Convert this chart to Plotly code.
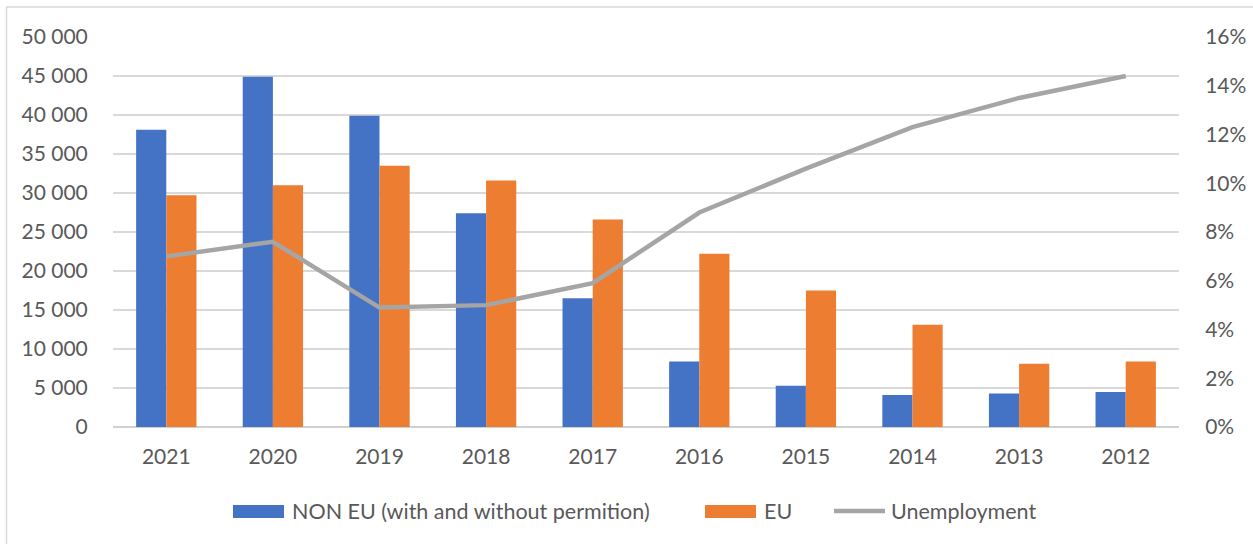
import plotly.graph_objects as go

years = ["2021", "2020", "2019", "2018", "2017", "2016", "2015", "2014", "2013", "2012"]
non_eu = [38100, 44900, 39900, 27400, 16500, 8400, 5300, 4100, 4300, 4500]
eu = [29700, 31000, 33500, 31600, 26600, 22200, 17500, 13100, 8100, 8400]
unemployment = [7.0, 7.6, 4.9, 5.0, 5.9, 8.8, 10.6, 12.3, 13.5, 14.4]

left_ticks = list(range(0, 50001, 5000))
left_labels = ["0" if v == 0 else f"{v // 1000} 000" for v in left_ticks]
right_ticks = list(range(0, 17, 2))
right_labels = [f"{v}%" for v in right_ticks]

names = ["NON EU (with and without permition)", "EU", "Unemployment"]
colors = ["#4472C4", "#ED7D31", "#A5A5A5"]

W, H = 1253, 544
L, R, T, B = 113, 74, 37, 117
PW, PH = W - L - R, H - T - B
FONT = "Lato, Open Sans, sans-serif"
TXT = "#595959"
FS = 21
CLEAR = "rgba(0,0,0,0)"


def px(x):
    return (x - L) / PW


def py(y):
    return (H - B - y) / PH


fig = go.Figure()
fig.add_trace(go.Bar(x=years, y=non_eu, name=names[0],
                     marker=dict(color=colors[0], line=dict(width=0))))
fig.add_trace(go.Bar(x=years, y=eu, name=names[1],
                     marker=dict(color=colors[1], line=dict(width=0))))
fig.add_trace(go.Scatter(x=years, y=unemployment, name=names[2], yaxis="y2",
                         mode="lines", line=dict(color=colors[2], width=4.5)))

fig.update_layout(
    width=W, height=H,
    margin=dict(l=L, r=R, t=T, b=B),
    paper_bgcolor="white", plot_bgcolor="white",
    barmode="group", bargap=0.434, bargroupgap=0,
    showlegend=False,
    font=dict(family=FONT, size=FS, color=TXT),
    xaxis=dict(showgrid=False, showline=False, ticks="outside", ticklen=11,
               tickcolor=CLEAR, automargin=False,
               tickfont=dict(size=FS, color=TXT)),
    yaxis=dict(range=[0, 50000], tickvals=left_ticks, ticktext=left_labels,
               showgrid=True, gridcolor="#D9D9D9", gridwidth=1.5, zeroline=True,
               zerolinecolor="#D0D0D0", zerolinewidth=2, showline=False,
               ticks="outside", ticklen=20, tickcolor=CLEAR,
               automargin=False, tickfont=dict(size=FS, color=TXT)),
    yaxis2=dict(range=[0, 16], tickvals=right_ticks, ticktext=right_labels,
                overlaying="y", side="right", showgrid=False, zeroline=False,
                showline=False, ticks="outside", ticklen=21, tickcolor=CLEAR,
                automargin=False, tickfont=dict(size=FS, color=TXT)),
)

# chart border (left and top visible, others beyond the page)
fig.add_shape(type="rect", xref="paper", yref="paper",
              x0=px(6.5), x1=px(W + 5), y0=py(H + 5), y1=py(7),
              line=dict(color="#D9D9D9", width=1.5), fillcolor=CLEAR)

# custom legend
ly = 511
fig.add_shape(type="rect", xref="paper", yref="paper",
              x0=px(233), x1=px(284), y0=py(518), y1=py(505),
              line=dict(width=0), fillcolor=colors[0])
fig.add_shape(type="rect", xref="paper", yref="paper",
              x0=px(705), x1=px(756), y0=py(518), y1=py(505),
              line=dict(width=0), fillcolor=colors[1])
fig.add_shape(type="line", xref="paper", yref="paper",
              x0=px(834), x1=px(885), y0=py(ly), y1=py(ly),
              line=dict(color=colors[2], width=4.5))
for xs, name in [(290, names[0]), (762, names[1]), (889, names[2])]:
    fig.add_annotation(xref="paper", yref="paper", x=px(xs), y=py(ly),
                       text=name, showarrow=False, xanchor="left", yanchor="middle",
                       font=dict(family=FONT, size=FS + 0.5, color=TXT))

fig.write_html("out.html", config={"displayModeBar": False},
               post_script="document.body.style.margin='0';"
                           "document.body.style.overflow='hidden';")
